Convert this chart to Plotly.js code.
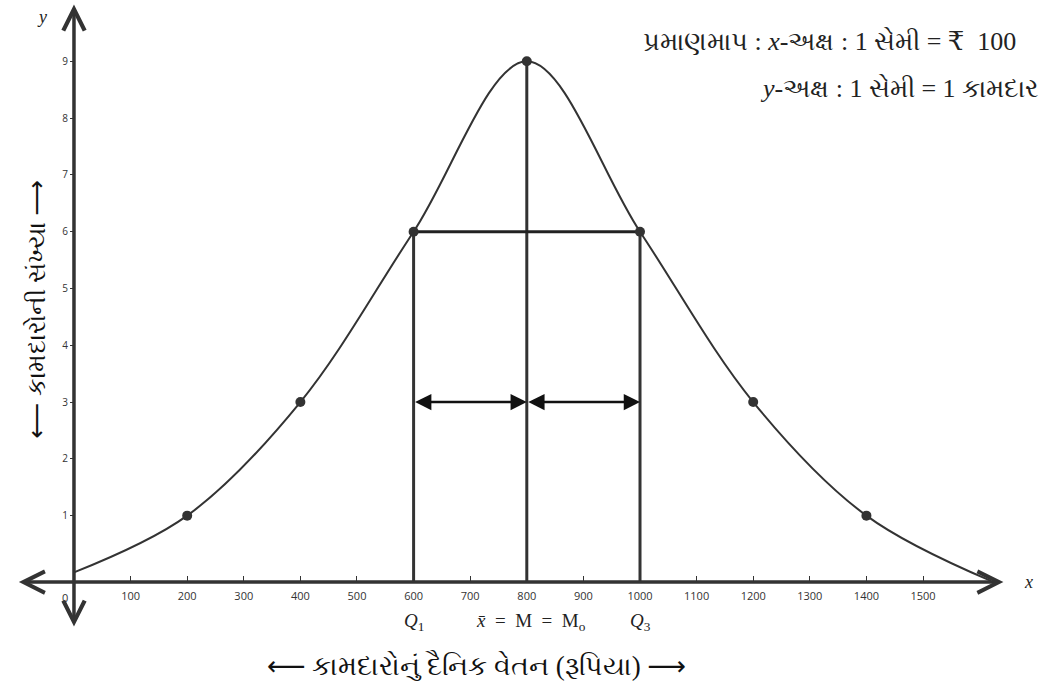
<!DOCTYPE html>
<html>
<head>
<meta charset="utf-8">
<script src="https://cdn.plot.ly/plotly-3.0.1.min.js"></script>
<style>html,body{margin:0;padding:0;background:#fff;}#chart{width:1045px;height:686px;}</style>
</head>
<body>
<div id="chart"></div>
<script>
// Data
const wages   = [200, 400, 600, 800, 1000, 1200, 1400];   // daily wage (Rs)
const workers = [1, 3, 6, 9, 6, 3, 1];                      // number of workers
const curveX  = [0, 200, 400, 600, 800, 1000, 1200, 1400, 1620];
const curveY  = [0, 1, 3, 6, 9, 6, 3, 1, -0.15];
const q1 = 600, median = 800, q3 = 1000, quartileLevel = 6, peak = 9, arrowLevel = 3;
const xTickVals = [100,200,300,400,500,600,700,800,900,1000,1100,1200,1300,1400,1500];
const yTickVals = [1,2,3,4,5,6,7,8,9];

const axisY = -0.17;      // where the x-axis line is drawn
const xr = [-130.7, 1715.5], yr = [-2.0, 10.08];
const dark = '#333333';

const traces = [
  {x: curveX, y: curveY, mode: 'lines', line: {shape: 'spline', smoothing: 1, color: dark, width: 2}, hoverinfo: 'skip'},
  {x: [q1, q1], y: [axisY, quartileLevel], mode: 'lines', line: {color: dark, width: 3}},
  {x: [median, median], y: [axisY, peak], mode: 'lines', line: {color: dark, width: 3}},
  {x: [q3, q3], y: [axisY, quartileLevel], mode: 'lines', line: {color: dark, width: 3}},
  {x: [q1, q3], y: [quartileLevel, quartileLevel], mode: 'lines', line: {color: '#222', width: 3}},
  {x: wages, y: workers, mode: 'markers', marker: {color: dark, size: 10}}
];

const serif = 'Liberation Serif, DejaVu Serif, serif';
const arrowSpan = s => '<span style="font-family:DejaVu Sans">' + s + '</span>';
const ann = [];
// axes with arrowheads at both ends
ann.push({x: 1642, y: axisY, ax: -100, ay: axisY, xref: 'x', yref: 'y', axref: 'x', ayref: 'y', text: '',
  showarrow: true, arrowhead: 5, startarrowhead: 5, arrowside: 'end+start', arrowwidth: 3.5, arrowsize: 1.2, startarrowsize: 1.2, arrowcolor: dark, standoff: 0, startstandoff: 0});
ann.push({x: 0, y: 10.0, ax: 0, ay: -0.98, xref: 'x', yref: 'y', axref: 'x', ayref: 'y', text: '',
  showarrow: true, arrowhead: 5, startarrowhead: 5, arrowside: 'end+start', arrowwidth: 3.5, arrowsize: 1.2, startarrowsize: 1.2, arrowcolor: dark, standoff: 0, startstandoff: 0});
// double arrows between quartiles and median
[[q1, median], [median, q3]].forEach(p => {
  ann.push({x: p[1], y: arrowLevel, ax: p[0], ay: arrowLevel, xref: 'x', yref: 'y', axref: 'x', ayref: 'y', text: '',
    showarrow: true, arrowhead: 2, startarrowhead: 2, arrowside: 'end+start', arrowwidth: 2.5, arrowsize: 1.3, startarrowsize: 1.3, arrowcolor: '#111', standoff: 0, startstandoff: 0});
});
// labels
ann.push({x: 0, y: axisY, xref: 'x', yref: 'y', text: '0', showarrow: false, xshift: -9, yshift: -15, font: {family: 'Open Sans, sans-serif', size: 11, color: dark}});
ann.push({x: 1660, y: axisY, xref: 'x', yref: 'y', text: '<i>x</i>', showarrow: false, xanchor: 'left', xshift: 8, font: {family: serif, size: 18, color: '#222'}});
ann.push({x: 0, y: 10.0, xref: 'x', yref: 'y', text: '<i>y</i>', showarrow: false, xshift: -32, yshift: -12, font: {family: serif, size: 18, color: '#222'}});
ann.push({x: q1, y: axisY, xref: 'x', yref: 'y', text: '<i>Q</i><sub>1</sub>', showarrow: false, yshift: -40, font: {family: serif, size: 19, color: '#222'}});
ann.push({x: q3, y: axisY, xref: 'x', yref: 'y', text: '<i>Q</i><sub>3</sub>', showarrow: false, yshift: -40, font: {family: serif, size: 19, color: '#222'}});
ann.push({x: median, y: axisY, xref: 'x', yref: 'y', text: '<i>x̄</i>  =  M  =  M<sub>o</sub>', showarrow: false, xshift: 4, yshift: -40, font: {family: serif, size: 19, color: '#222'}});
ann.push({x: 1018, y: 42, xref: 'paper', yref: 'paper', text: 'પ્રમાણમાપ : <i>x</i>-અક્ષ : 1 સેમી = ₹  100', showarrow: false, xanchor: 'right', font: {family: serif, size: 26, color: '#222'}});
ann.push({x: 1040, y: 88, xref: 'paper', yref: 'paper', text: '<i>y</i>-અક્ષ : 1 સેમી = 1 કામદાર', showarrow: false, xanchor: 'right', font: {family: serif, size: 26, color: '#222'}});
ann.push({x: 476, y: 665, xref: 'paper', yref: 'paper', text: arrowSpan('⟵') + ' કામદારોનું દૈનિક વેતન (રૂપિયા) ' + arrowSpan('⟶'), showarrow: false, font: {family: serif, size: 27, color: '#111'}});
ann.push({x: 20, y: 310, xref: 'paper', yref: 'paper', text: arrowSpan('⟵') + ' કામદારોની સંખ્યા ' + arrowSpan('⟶'), showarrow: false, textangle: -90, font: {family: serif, size: 25, color: '#111'}});

// convert pixel-specified paper annotations
ann.forEach(a => {
  if (a.xref === 'paper') { a.x = a.x / 1045; a.y = 1 - a.y / 686; a.yanchor = 'middle'; }
});

const layout = {
  width: 1045, height: 686,
  margin: {l: 0, r: 0, t: 0, b: 0},
  paper_bgcolor: '#fff', plot_bgcolor: '#fff',
  showlegend: false,
  xaxis: {range: xr, showgrid: false, zeroline: false, showline: false,
    tickvals: xTickVals, ticktext: xTickVals.map(String), ticks: 'inside', ticklen: 6, tickwidth: 1, tickcolor: dark,
    ticklabelstandoff: 6,
    anchor: 'free', position: (axisY - yr[0]) / (yr[1] - yr[0]),
    tickfont: {family: 'Open Sans, sans-serif', size: 11, color: dark}, fixedrange: true},
  yaxis: {range: yr, showgrid: false, zeroline: false, showline: false,
    tickvals: yTickVals, ticks: 'outside', ticklen: 4, tickwidth: 1, tickcolor: dark,
    anchor: 'free', position: (0 - xr[0]) / (xr[1] - xr[0]),
    tickfont: {family: 'Open Sans, sans-serif', size: 10, color: dark}, fixedrange: true},
  annotations: ann
};

Plotly.newPlot('chart', traces, layout, {displayModeBar: false, staticPlot: true});
</script>
</body>
</html>
